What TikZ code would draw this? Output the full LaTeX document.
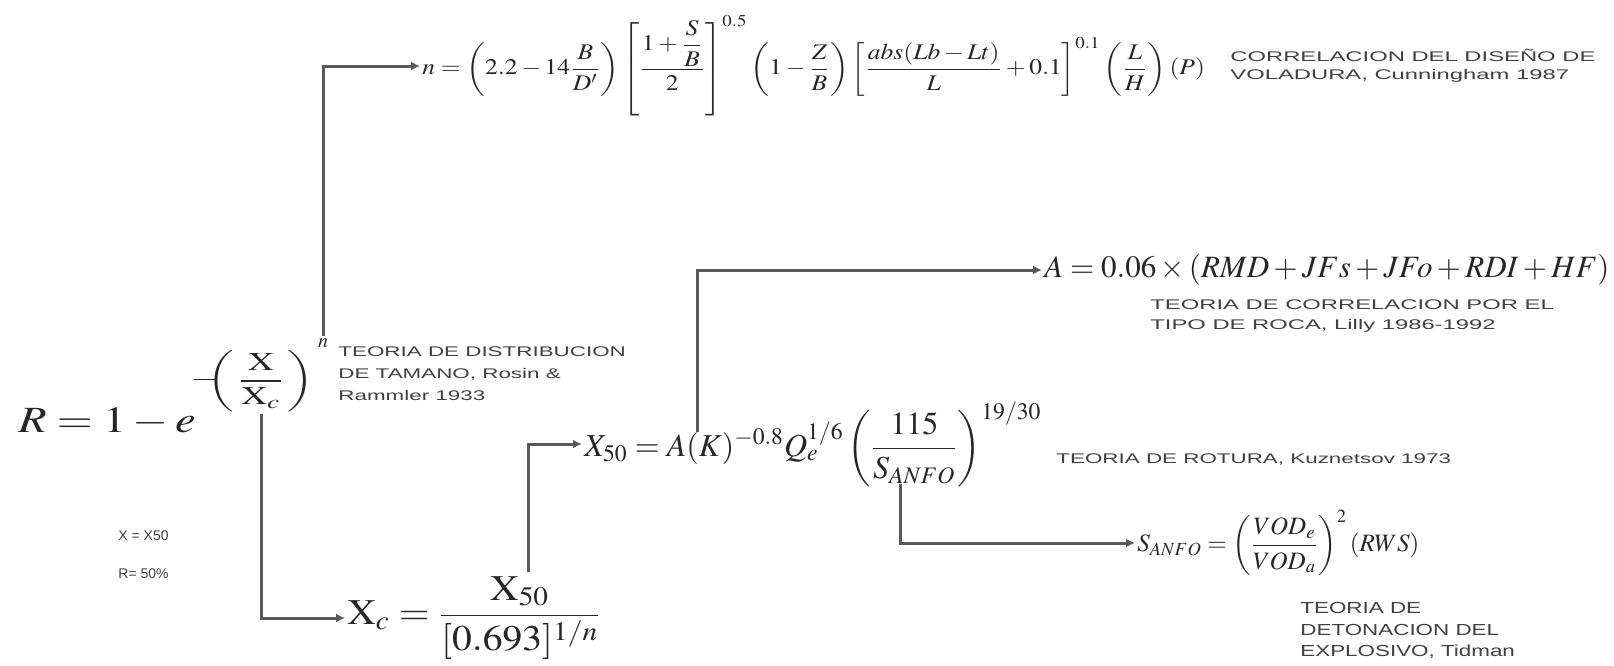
\documentclass[tikz,border=0pt]{standalone}
\usepackage{amsmath}
\usepackage{mathptmx}
\usepackage{graphicx}
\usepackage{fontspec}
\setsansfont{Liberation Sans}
\newfontfamily\lblfont[FakeStretch=1.6]{Liberation Sans}
\newfontfamily\widefont[FakeStretch=1.7]{Liberation Sans}
\newfontfamily\tidfont[FakeStretch=1.4]{Liberation Sans}
\usetikzlibrary{arrows.meta,positioning}

\tikzset{
  conn/.style={draw=black!65, line width=1.5pt, -{Latex[length=4.5pt,width=4.5pt]}},
  lbl/.style={font=\lblfont\fontsize{7}{8.8}\selectfont, text=black!75, align=left, anchor=north west, inner sep=0pt},
  eq/.style={inner sep=1pt, text=black!85},
}

\begin{document}
\begin{tikzpicture}[x=0.5pt,y=-0.5pt]
\useasboundingbox (0,0) rectangle (1614,665);

% --- Rosin-Rammler
\node[eq,anchor=base west,font=\fontsize{18.5}{20}\selectfont] (rr) at (16,432) {\scalebox{1.25}[1]{$R = 1 - e$}};
\node[eq,font=\fontsize{13}{15}\selectfont] (minus) at (205,380) {\scalebox{1.4}[1]{$-$}};
\node[eq,font=\fontsize{12.8}{15}\selectfont] (ratio) at (261,381) {\scalebox{1.4}[1]{$\left(\,\dfrac{\mathrm{X}}{\mathrm{X}_c}\,\right)$}};
\node[eq,font=\fontsize{10}{12}\selectfont] (nexp) at (323,343) {$n$};
\node[lbl,font=\lblfont\fontsize{7}{11}\selectfont] (rosin) at (338,346) {TEORIA DE DISTRIBUCION\\DE TAMANO, Rosin \&\\Rammler 1933};

% --- Cunningham
\node[eq,anchor=west,font=\fontsize{11.2}{13}\selectfont] (cunn) at (420,66)
  {\scalebox{1.14}[1]{$n = \left(2.2 - 14\dfrac{B}{D'}\right)\left[\dfrac{1+\dfrac{S}{B}}{2}\right]^{0.5}\left(1-\dfrac{Z}{B}\right)\left[\dfrac{abs(Lb-Lt)}{L}+0.1\right]^{0.1}\left(\dfrac{L}{H}\right)(P)$}};
\node[lbl,font=\widefont\fontsize{7}{8.8}\selectfont] (cunnlbl) at (1230,49) {CORRELACION DEL DISEÑO DE\\VOLADURA, Cunningham 1987};

% --- X_c
\node[lbl,font=\sffamily\fontsize{7}{8}\selectfont] (xeq) at (118,530) {X = X50};
\node[lbl,font=\sffamily\fontsize{7}{8}\selectfont] (req) at (118,568) {R= 50\%};
\node[eq,anchor=west,font=\fontsize{18}{20}\selectfont] (xc) at (345,618)
  {\scalebox{1.1}[1]{$\mathrm{X}_c = \dfrac{\mathrm{X}_{50}}{[0.693]^{1/n}}$}};
\coordinate (xnum) at (528,572);

% --- Kuznetsov
\node[eq,anchor=west,font=\fontsize{16}{18}\selectfont] (kuz) at (582,444)
  {$X_{50} = A(K)^{-0.8}Q_e^{1/6}\left(\dfrac{115}{S_{ANFO}}\right)^{19/30}$};
\coordinate (kuzA) at (697,432);
\coordinate (kuzS) at (900,484);
\node[lbl] (kuzlbl) at (1056,453) {TEORIA DE ROTURA, Kuznetsov 1973};

% --- Lilly
\node[eq,anchor=west,font=\fontsize{15.5}{18}\selectfont] (lilly) at (1042,270)
  {$A = 0.06\times(RMD + JFs + JFo + RDI + HF)$};
\node[lbl,font=\widefont\fontsize{7}{10}\selectfont] (lillylbl) at (1150,299) {TEORIA DE CORRELACION POR EL\\TIPO DE ROCA, Lilly 1986-1992};

% --- Tidman
\node[eq,anchor=west,font=\fontsize{12.5}{14}\selectfont] (tid) at (1135,543)
  {$S_{ANFO} = \left(\dfrac{VOD_e}{VOD_a}\right)^{2}(RWS)$};
\node[lbl,font=\tidfont\fontsize{8}{10.8}\selectfont] (tidlbl) at (1300,602) {TEORIA DE\\DETONACION DEL\\EXPLOSIVO, Tidman};

% --- conectores
\draw[conn] (nexp.north) |- (cunn.west);
\draw[conn] (ratio.south) |- (xc.west);
\draw[conn] (xnum) |- (kuz.west);
\draw[conn] (kuzA) |- (lilly.west);
\draw[conn] (kuzS) |- (tid.west);

\end{tikzpicture}
\end{document}
